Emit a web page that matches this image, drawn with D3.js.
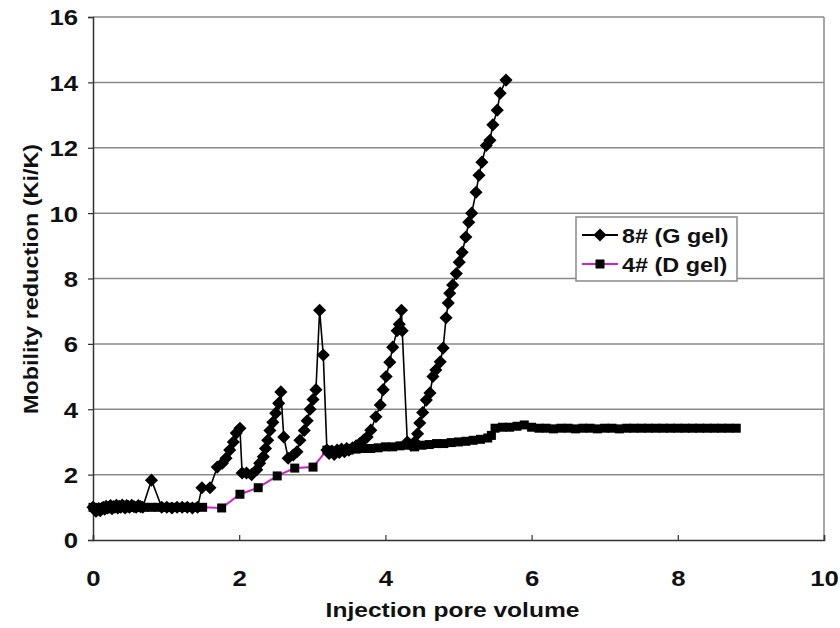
<!DOCTYPE html>
<html>
<head>
<meta charset="utf-8">
<script src="https://cdn.jsdelivr.net/npm/d3@7"></script>
<style>
  body { margin: 0; background: #fff; }
  text { font-family: "Liberation Sans", Arial, sans-serif; font-weight: bold; }
</style>
</head>
<body>
<div id="chart"></div>
<script>
// 8# (G gel) series
const gX = [0.00,0.02,0.04,0.06,0.08,0.10,0.12,0.14,0.16,0.18,0.20,0.22,0.24,0.26,0.28,0.30,0.32,0.34,0.36,0.38,0.40,0.42,0.44,0.46,0.48,0.50,0.53,0.56,0.59,0.62,0.65,0.68,0.80,0.94,1.01,1.08,1.15,1.22,1.29,1.36,1.43,
  1.49,1.60,1.70,1.77,1.82,1.87,1.92,1.96,2.01,2.04,2.10,2.17,2.24,2.28,2.33,2.36,2.39,2.42,2.46,2.50,2.54,2.57,
  2.61,2.67,2.74,2.79,2.83,2.89,2.93,2.97,3.01,3.05,3.10,3.15,3.20,3.23,3.27,3.30,3.34,3.37,3.40,3.44,3.47,3.50,3.55,3.60,3.65,3.70,
  3.75,3.80,3.87,3.93,3.97,4.01,4.06,4.10,4.16,4.19,4.22,4.23,4.30,4.35,4.40,4.44,
  4.47,4.51,4.56,4.61,4.65,4.69,4.75,4.79,4.83,4.86,4.88,4.92,4.97,5.01,5.05,5.10,5.14,5.18,5.24,5.28,5.32,5.38,5.43,5.47,5.53,5.57,5.65];
const gY = [1.00,0.95,0.88,0.92,0.96,0.90,0.97,1.00,0.94,1.03,0.98,1.00,1.05,0.96,1.02,1.00,1.06,0.98,1.03,1.00,1.07,1.02,0.98,1.05,1.03,1.00,1.06,1.02,1.00,1.05,1.02,1.00,1.83,1.00,1.00,0.98,1.00,1.00,1.00,0.98,1.00,
  1.60,1.60,2.23,2.35,2.50,2.75,3.00,3.27,3.42,2.05,2.05,2.00,2.15,2.35,2.55,2.80,3.05,3.35,3.60,3.88,4.18,4.53,
  3.15,2.50,2.60,2.70,3.05,3.35,3.65,4.00,4.30,4.60,7.03,5.66,2.75,2.65,2.72,2.62,2.75,2.68,2.78,2.70,2.80,2.75,2.82,2.88,2.95,3.05,
  3.15,3.36,3.77,4.13,4.60,5.00,5.44,5.90,6.40,6.60,7.03,6.40,3.00,2.90,3.00,3.25,
  3.58,3.90,4.28,4.50,5.00,5.20,5.45,5.87,6.80,7.25,7.55,7.80,8.15,8.50,8.80,9.27,9.72,10.00,10.64,11.16,11.56,12.07,12.23,12.70,13.15,13.67,14.07];

// 4# (D gel) series
const dX = [0.00,0.10,0.20,0.30,0.40,0.50,0.60,0.70,0.80,0.90,1.00,1.10,1.20,1.30,1.40,1.50,1.76,2.01,2.26,2.52,2.76,3.01,
  3.20,3.30,3.40,3.50,3.60,3.70,3.80,3.90,4.00,4.10,4.20,4.30,4.40,4.50,4.60,4.70,4.80,4.90,5.00,5.10,5.20,5.30,5.40,5.45,
  5.50,5.60,5.70,5.80,5.90,6.00,6.10,6.20,6.30,6.40,6.50,6.60,6.70,6.80,6.90,7.00,7.10,7.20,7.30,7.40,7.50,7.60,7.70,7.80,7.90,8.00,8.10,8.20,8.30,8.40,8.50,8.60,8.70,8.80];
const dY = [1.00,0.97,1.00,1.00,1.02,1.00,1.00,1.00,1.00,1.00,1.00,1.00,1.00,1.00,1.00,1.00,0.98,1.40,1.60,1.96,2.20,2.23,
  2.75,2.70,2.72,2.75,2.78,2.80,2.80,2.82,2.85,2.85,2.88,2.90,2.85,2.90,2.92,2.95,2.95,2.98,3.00,3.02,3.05,3.08,3.12,3.20,
  3.42,3.45,3.45,3.48,3.52,3.45,3.42,3.42,3.40,3.42,3.42,3.40,3.42,3.42,3.40,3.42,3.42,3.40,3.42,3.42,3.42,3.42,3.42,3.42,3.42,3.42,3.42,3.42,3.42,3.42,3.42,3.42,3.42,3.42];

const xTicks = [0, 2, 4, 6, 8, 10];
const yTicks = [0, 2, 4, 6, 8, 10, 12, 14, 16];
const seriesNames = ["8# (G gel)", "4# (D gel)"];

const W = 840, H = 628;
const margin = {top: 17, right: 16, bottom: 88, left: 93};
const iw = W - margin.left - margin.right;
const ih = H - margin.top - margin.bottom;
const SX = 1.17;   // text in the figure is drawn a bit wide

const svg = d3.select("#chart").append("svg")
  .attr("width", W).attr("height", H);
const g = svg.append("g").attr("transform", `translate(${margin.left},${margin.top})`);

const x = d3.scaleLinear().domain([0, 10]).range([0, iw]);
const y = d3.scaleLinear().domain([0, 16]).range([ih, 0]);

// grid lines
g.selectAll(".grid").data(yTicks.slice(1)).enter().append("line")
  .attr("x1", 0).attr("x2", iw)
  .attr("y1", d => y(d)).attr("y2", d => y(d))
  .attr("stroke", "#8a8a8a").attr("stroke-width", 1.5);

// right border
g.append("line").attr("x1", iw).attr("x2", iw).attr("y1", 0).attr("y2", ih)
  .attr("stroke", "#8a8a8a").attr("stroke-width", 1.5);

// axes
const yAxis = g.append("g").call(d3.axisLeft(y).tickValues(yTicks).tickSize(5));
const xAxis = g.append("g").attr("transform", `translate(0,${ih})`)
  .call(d3.axisBottom(x).tickValues(xTicks).tickSize(-5));
[xAxis, yAxis].forEach(a => {
  a.select(".domain").attr("stroke", "#333").attr("stroke-width", 1.5);
  a.selectAll(".tick line").attr("stroke", "#333").attr("stroke-width", 1.2);
  a.selectAll(".tick text").attr("font-size", 22).attr("fill", "#111")
    .attr("font-family", "Liberation Sans, Arial, sans-serif").attr("font-weight", "bold");
});
yAxis.selectAll(".tick text").attr("x", -15 / SX).attr("dy", "0.36em")
  .attr("transform", `scale(${SX},1)`);
xAxis.selectAll(".tick text").attr("y", 46).attr("dy", 0)
  .attr("transform", `scale(${SX},1)`);

// axis titles
svg.append("text")
  .attr("transform", `translate(${margin.left + iw / 2 - 6},617) scale(${SX},1)`)
  .attr("text-anchor", "middle").attr("font-size", 21).attr("fill", "#111")
  .text("Injection pore volume");
svg.append("text")
  .attr("transform", `translate(38,279) rotate(-90) scale(${SX},1)`)
  .attr("text-anchor", "middle").attr("font-size", 20).attr("fill", "#111")
  .text("Mobility reduction (Ki/K)");

const gData = gX.map((v, i) => [v, gY[i]]);
const dData = dX.map((v, i) => [v, dY[i]]);
const line = d3.line().x(d => x(d[0])).y(d => y(d[1]));

const diamond = d3.symbol().type(d3.symbolSquare).size(86);
const square = d3.symbol().type(d3.symbolSquare).size(81);

// G gel
g.append("path").datum(gData).attr("d", line)
  .attr("fill", "none").attr("stroke", "#000").attr("stroke-width", 1.6);
g.selectAll(".gpt").data(gData).enter().append("path")
  .attr("d", diamond)
  .attr("transform", d => `translate(${x(d[0])},${y(d[1])}) rotate(45)`)
  .attr("fill", "#000");

// D gel
g.append("path").datum(dData).attr("d", line)
  .attr("fill", "none").attr("stroke", "#cc22cc").attr("stroke-width", 2);
g.selectAll(".dpt").data(dData).enter().append("path")
  .attr("d", square)
  .attr("transform", d => `translate(${x(d[0])},${y(d[1])})`)
  .attr("fill", "#000");

// legend
const lg = svg.append("g").attr("transform", "translate(576,217)");
lg.append("rect").attr("width", 161).attr("height", 64)
  .attr("fill", "#fff").attr("stroke", "#8a8a8a").attr("stroke-width", 1.5);
const items = lg.selectAll(".item").data(seriesNames).enter().append("g")
  .attr("transform", (d, i) => `translate(0,${18 + i * 29})`);
items.append("line").attr("x1", 6).attr("x2", 42).attr("y1", 0).attr("y2", 0)
  .attr("stroke", (d, i) => i === 0 ? "#000" : "#cc22cc").attr("stroke-width", 2);
items.append("path")
  .attr("d", (d, i) => i === 0 ? diamond() : square())
  .attr("transform", (d, i) => i === 0 ? "translate(24,0) rotate(45)" : "translate(24,0)")
  .attr("fill", "#000");
items.append("text").attr("transform", `translate(46,7.5) scale(${SX},1)`)
  .attr("font-size", 20).attr("fill", "#111").text(d => d);
</script>
</body>
</html>
